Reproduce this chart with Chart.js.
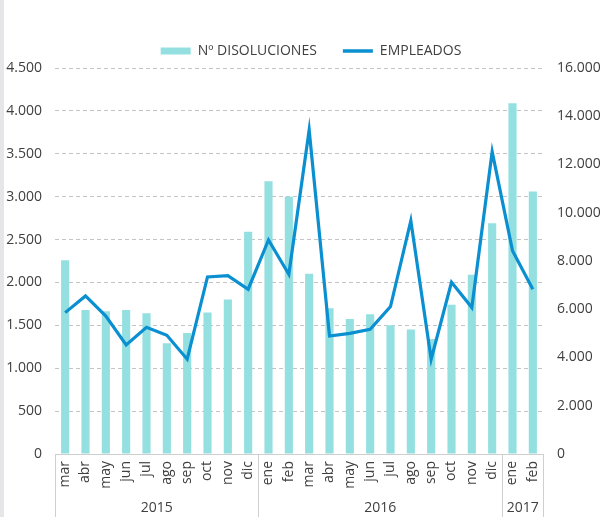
<!DOCTYPE html>
<html>
<head>
<meta charset="utf-8">
<script src="https://cdn.jsdelivr.net/npm/chart.js@4"></script>
<style>
  body { margin: 0; background: #fff; }
  #chart { display: block; }
</style>
</head>
<body>
<canvas id="chart" width="604" height="517"></canvas>
<script>
const months = ['mar', 'abr', 'may', 'jun', 'jul', 'ago', 'sep', 'oct', 'nov', 'dic', 'ene', 'feb',
	'mar', 'abr', 'may', 'jun', 'jul', 'ago', 'sep', 'oct', 'nov', 'dic', 'ene', 'feb'];
const years = ['2015', '2016', '2017'];
const yearSpans = [10, 12, 2];

const disoluciones = [2260, 1680, 1665, 1680, 1640, 1290, 1410, 1650, 1800, 2590, 3180, 3000,
	2100, 1700, 1575, 1630, 1500, 1450, 1340, 1740, 2090, 2690, 4090, 3060];
const empleados = [5860, 6550, 5720, 4520, 5250, 4920, 3930, 7340, 7390, 6830, 8870, 7450,
	13430, 4890, 5000, 5170, 6110, 9670, 3930, 7120, 6070, 12530, 8430, 6830];

const barColor = '#94e0e1';
const lineColor = '#0a8fd0';
const textColor = '#404040';
const fontFamily = '"Open Sans", "Noto Sans", sans-serif';

function fmt(v) {
	return String(v).replace(/\B(?=(\d{3})+(?!\d))/g, '.');
}

// year row under the months, with the separator lines
const yearGroups = {
	id: 'yearGroups',
	afterLayout(chart) {
		// legend sits a bit right of centre in the original
		chart.legend.left += 9;
		chart.legend.right += 9;
	},
	beforeDraw(chart) {
		const ctx = chart.ctx;
		ctx.save();
		ctx.fillStyle = '#e6e6e9';
		ctx.fillRect(0, 0, 4, chart.height);
		ctx.restore();
	},
	afterDraw(chart) {
		const ctx = chart.ctx;
		const x = chart.scales.x;
		const area = chart.chartArea;
		const step = (x.right - x.left) / months.length;
		ctx.save();
		ctx.strokeStyle = '#cfcfcf';
		ctx.lineWidth = 1;
		ctx.fillStyle = textColor;
		ctx.font = '14px ' + fontFamily;
		ctx.textAlign = 'center';
		ctx.textBaseline = 'middle';
		let start = 0;
		const edges = [x.left];
		years.forEach((y, i) => {
			const x0 = x.left + start * step;
			start += yearSpans[i];
			const x1 = x.left + start * step;
			edges.push(x1);
			ctx.fillText(y, (x0 + x1) / 2, 508);
		});
		edges.forEach(e => {
			const px = Math.round(e) + 0.5;
			ctx.beginPath();
			ctx.moveTo(px, area.bottom);
			ctx.lineTo(px, chart.height);
			ctx.stroke();
		});
		ctx.restore();
	}
};

new Chart(document.getElementById('chart'), {
	type: 'bar',
	data: {
		labels: months,
		datasets: [{
			label: 'Nº DISOLUCIONES',
			data: disoluciones,
			backgroundColor: barColor,
			yAxisID: 'y',
			categoryPercentage: 1,
			barPercentage: 0.4,
			order: 1
		}, {
			type: 'line',
			label: 'EMPLEADOS',
			data: empleados,
			borderColor: lineColor,
			backgroundColor: lineColor,
			borderWidth: 3.2,
			pointRadius: 0,
			tension: 0,
			yAxisID: 'y1',
			order: 0
		}]
	},
	options: {
		responsive: false,
		animation: false,
		devicePixelRatio: 1,
		layout: { padding: { top: 18, left: 0, right: 0, bottom: 0 } },
		plugins: {
			tooltip: { enabled: false },
			legend: {
				position: 'top',
				labels: {
					color: textColor,
					font: { family: fontFamily, size: 14 },
					usePointStyle: true,
					pointStyleWidth: 30,
					boxHeight: 7,
					padding: 26,
					generateLabels(chart) {
						return [{
							text: 'Nº DISOLUCIONES', fillStyle: barColor, strokeStyle: barColor,
							lineWidth: 0, pointStyle: 'rect', datasetIndex: 0, fontColor: textColor
						}, {
							text: 'EMPLEADOS', fillStyle: lineColor, strokeStyle: lineColor,
							lineWidth: 3.5, pointStyle: 'line', datasetIndex: 1, fontColor: textColor
						}];
					}
				}
			}
		},
		scales: {
			x: {
				grid: { display: false, drawTicks: false },
				border: { display: true, color: '#cfcfcf' },
				ticks: {
					color: textColor,
					font: { family: fontFamily, size: 14 },
					autoSkip: false,
					maxRotation: 90,
					minRotation: 90,
					padding: 7
				},
				afterFit(s) { s.height = 63; }
			},
			y: {
				position: 'left',
				min: 0,
				max: 4500,
				grid: { color: '#c4c4c4', drawTicks: false },
				border: { display: false, dash: [4, 3] },
				ticks: {
					stepSize: 500,
					color: textColor,
					font: { family: fontFamily, size: 14 },
					padding: 13,
					callback: v => fmt(v)
				},
				afterFit(s) { s.width = 55; }
			},
			y1: {
				position: 'right',
				min: 0,
				max: 16000,
				grid: { display: false, drawTicks: false },
				border: { display: false },
				ticks: {
					stepSize: 2000,
					color: textColor,
					font: { family: fontFamily, size: 14 },
					padding: 14,
					callback: v => fmt(v)
				},
				afterFit(s) { s.width = 61; }
			}
		}
	},
	plugins: [yearGroups]
});
</script>
</body>
</html>
